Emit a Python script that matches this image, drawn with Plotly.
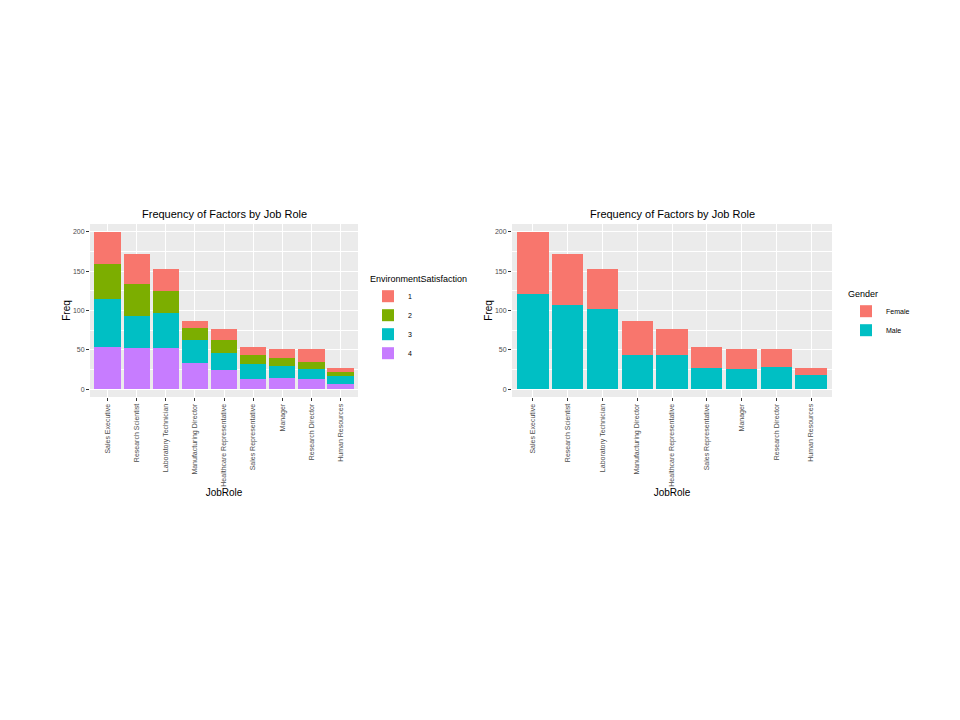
import plotly.graph_objects as go

roles = ["Sales Executive", "Research Scientist", "Laboratory Technician",
         "Manufacturing Director", "Healthcare Representative", "Sales Representative",
         "Manager", "Research Director", "Human Resources"]

# EnvironmentSatisfaction counts per role
env_1 = [41, 38, 28, 9, 13, 10, 12, 16, 5]
env_2 = [44, 41, 28, 15, 17, 11, 9, 9, 5]
env_3 = [61, 41, 45, 30, 22, 19, 16, 13, 10]
env_4 = [54, 52, 52, 33, 24, 13, 14, 13, 7]

# Gender counts per role
male = [121, 107, 102, 44, 43, 27, 26, 28, 18]
female = [79, 65, 51, 43, 33, 26, 25, 23, 9]

W, H = 960, 720
FONT = "Liberation Sans, Arial, sans-serif"
C1, C2, C3, C4 = "#F8766D", "#7CAE00", "#00BFC4", "#C77CFF"

fig = go.Figure()

for name, vals, col in [("4", env_4, C4), ("3", env_3, C3), ("2", env_2, C2), ("1", env_1, C1)]:
    fig.add_trace(go.Bar(x=roles, y=vals, name=name, marker=dict(color=col, line=dict(width=0)),
                         xaxis="x", yaxis="y", legend="legend"))

for name, vals, col in [("Male", male, C3), ("Female", female, C1)]:
    fig.add_trace(go.Bar(x=roles, y=vals, name=name, marker=dict(color=col, line=dict(width=0)),
                         xaxis="x2", yaxis="y2", legend="legend2"))


def px_x(a, b):
    return [a / W, b / W]


def px_y(top, bottom):
    return [1 - bottom / H, 1 - top / H]


axis_common_x = dict(
    type="category", range=[-0.6, 8.6], showgrid=True, gridcolor="white", gridwidth=1.1,
    tickangle=-90, ticks="outside", ticklen=3, tickcolor="#333333", tickwidth=1,
    tickfont=dict(family=FONT, size=7, color="#4d4d4d"), zeroline=False, showline=False,
    title=dict(text="JobRole", font=dict(family=FONT, size=10, color="black"), standoff=2),
    fixedrange=True,
)
axis_common_y = dict(
    range=[-10, 210], tickvals=[0, 50, 100, 150, 200], showgrid=True, gridcolor="white",
    gridwidth=1.1, ticks="outside", ticklen=3, tickcolor="#333333", tickwidth=1,
    tickfont=dict(family=FONT, size=7, color="#4d4d4d"), zeroline=False, showline=False,
    minor=dict(tickvals=[25, 75, 125, 175], showgrid=True, gridcolor="white", gridwidth=0.5, ticks=""),
    title=dict(text="Freq", font=dict(family=FONT, size=10, color="black"), standoff=0),
    fixedrange=True,
)

fig.update_layout(
    width=W, height=H, margin=dict(l=0, r=0, t=0, b=0),
    paper_bgcolor="white", plot_bgcolor="#EBEBEB",
    barmode="stack", bargap=0.1,
    font=dict(family=FONT),
    xaxis=dict(axis_common_x, domain=px_x(90, 358), anchor="y"),
    yaxis=dict(axis_common_y, domain=px_y(224, 397), anchor="x"),
    xaxis2=dict(axis_common_x, domain=px_x(512, 832), anchor="y2"),
    yaxis2=dict(axis_common_y, domain=px_y(224, 397), anchor="x2"),
    legend=dict(x=368 / W, y=1 - 270 / H, xanchor="left", yanchor="top", traceorder="reversed",
                bgcolor="rgba(0,0,0,0)", font=dict(family=FONT, size=7, color="black"),
                title=dict(text="EnvironmentSatisfaction", font=dict(family=FONT, size=9, color="black")),
                itemwidth=30, tracegroupgap=0),
    legend2=dict(x=846 / W, y=1 - 285 / H, xanchor="left", yanchor="top", traceorder="reversed",
                 bgcolor="rgba(0,0,0,0)", font=dict(family=FONT, size=7, color="black"),
                 title=dict(text="Gender", font=dict(family=FONT, size=9, color="black")),
                 itemwidth=30, tracegroupgap=0),
    annotations=[
        dict(text="Frequency of Factors by Job Role", x=224 / W, y=1 - 214 / H, xref="paper", yref="paper",
             xanchor="center", yanchor="middle", showarrow=False, font=dict(family=FONT, size=11, color="black")),
        dict(text="Frequency of Factors by Job Role", x=672 / W, y=1 - 214 / H, xref="paper", yref="paper",
             xanchor="center", yanchor="middle", showarrow=False, font=dict(family=FONT, size=11, color="black")),
    ],
)

fig.write_html("out.html")
